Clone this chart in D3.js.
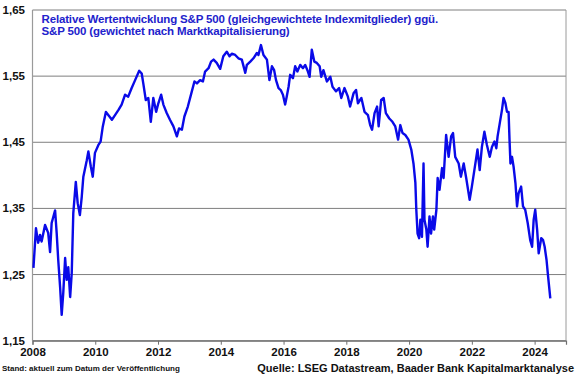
<!DOCTYPE html>
<html>
<head>
<meta charset="utf-8">
<script src="https://cdn.jsdelivr.net/npm/d3@7"></script>
<style>
  body { margin: 0; background: #fff; }
  svg { display: block; font-family: "Liberation Sans", Arial, sans-serif; }
</style>
</head>
<body>
<svg id="chart" width="580" height="375"></svg>
<script>
const years = [
  2008.03, 2008.11, 2008.18, 2008.24, 2008.29, 2008.40, 2008.50, 2008.56, 2008.61, 2008.72,
  2008.77, 2008.82, 2008.88, 2008.93, 2008.98, 2009.04, 2009.09, 2009.14, 2009.20, 2009.25,
  2009.30, 2009.38, 2009.44, 2009.51, 2009.57, 2009.62, 2009.73, 2009.78, 2009.86, 2009.92,
  2009.99, 2010.10, 2010.17, 2010.24, 2010.34, 2010.42, 2010.53, 2010.63, 2010.74, 2010.84,
  2010.95, 2011.05, 2011.16, 2011.27, 2011.40, 2011.48, 2011.53, 2011.61, 2011.69, 2011.77,
  2011.85, 2011.94, 2012.01, 2012.10, 2012.17, 2012.28, 2012.38, 2012.49, 2012.60, 2012.67,
  2012.76, 2012.84, 2012.95, 2013.05, 2013.16, 2013.24, 2013.34, 2013.43, 2013.50, 2013.61,
  2013.69, 2013.77, 2013.87, 2013.98, 2014.08, 2014.19, 2014.28, 2014.35, 2014.46, 2014.56,
  2014.67, 2014.78, 2014.83, 2014.94, 2015.04, 2015.15, 2015.20, 2015.28, 2015.36, 2015.47,
  2015.55, 2015.63, 2015.70, 2015.76, 2015.84, 2015.91, 2015.98, 2016.05, 2016.10, 2016.16,
  2016.21, 2016.30, 2016.37, 2016.44, 2016.53, 2016.62, 2016.69, 2016.76, 2016.83, 2016.90,
  2016.98, 2017.06, 2017.15, 2017.20, 2017.27, 2017.38, 2017.49, 2017.56, 2017.67, 2017.77,
  2017.84, 2017.94, 2018.05, 2018.12, 2018.23, 2018.31, 2018.37, 2018.48, 2018.58, 2018.69,
  2018.76, 2018.82, 2018.90, 2018.98, 2019.03, 2019.11, 2019.19, 2019.26, 2019.37, 2019.47,
  2019.56, 2019.65, 2019.72, 2019.79, 2019.88, 2019.98, 2020.07, 2020.14, 2020.20, 2020.23,
  2020.27, 2020.32, 2020.36, 2020.41, 2020.46, 2020.49, 2020.55, 2020.59, 2020.65, 2020.70,
  2020.76, 2020.80, 2020.87, 2020.91, 2020.97, 2021.05, 2021.10, 2021.18, 2021.26, 2021.34,
  2021.40, 2021.47, 2021.58, 2021.65, 2021.74, 2021.82, 2021.93, 2022.00, 2022.08, 2022.18,
  2022.25, 2022.32, 2022.40, 2022.48, 2022.57, 2022.64, 2022.72, 2022.78, 2022.82, 2022.89,
  2022.96, 2023.01, 2023.07, 2023.12, 2023.17, 2023.20, 2023.23, 2023.28, 2023.33, 2023.39,
  2023.44, 2023.49, 2023.57, 2023.63, 2023.70, 2023.78, 2023.86, 2023.92, 2023.97, 2024.02,
  2024.08, 2024.13, 2024.21, 2024.27, 2024.32, 2024.38, 2024.43, 2024.50
];
const ratio = [
  1.260, 1.320, 1.298, 1.310, 1.300, 1.325, 1.313, 1.284, 1.328, 1.347,
  1.313, 1.272, 1.231, 1.189, 1.222, 1.275, 1.242, 1.261, 1.216, 1.252,
  1.343, 1.390, 1.358, 1.340, 1.368, 1.398, 1.423, 1.436, 1.413, 1.398,
  1.434, 1.446, 1.451, 1.474, 1.496, 1.491, 1.484, 1.491, 1.499, 1.507,
  1.522, 1.519, 1.532, 1.544, 1.558, 1.554, 1.539, 1.514, 1.517, 1.481,
  1.517, 1.496, 1.509, 1.522, 1.507, 1.494, 1.484, 1.474, 1.459, 1.471,
  1.469, 1.489, 1.504, 1.522, 1.542, 1.539, 1.544, 1.542, 1.557, 1.562,
  1.572, 1.575, 1.570, 1.561, 1.580, 1.587, 1.580, 1.584, 1.582, 1.577,
  1.575, 1.555, 1.567, 1.572, 1.577, 1.585, 1.582, 1.597, 1.582, 1.575,
  1.544, 1.565, 1.559, 1.544, 1.532, 1.529, 1.522, 1.507, 1.519, 1.534,
  1.552, 1.547, 1.565, 1.557, 1.567, 1.562, 1.567, 1.559, 1.549, 1.590,
  1.572, 1.570, 1.565, 1.549, 1.559, 1.542, 1.549, 1.534, 1.527, 1.532,
  1.517, 1.532, 1.519, 1.504, 1.524, 1.529, 1.509, 1.517, 1.496, 1.491,
  1.476, 1.469, 1.494, 1.504, 1.474, 1.514, 1.517, 1.494, 1.486, 1.481,
  1.474, 1.454, 1.476, 1.464, 1.461, 1.454, 1.439, 1.418, 1.389, 1.348,
  1.312, 1.305, 1.333, 1.307, 1.418, 1.333, 1.318, 1.292, 1.338, 1.312,
  1.338, 1.318, 1.348, 1.396, 1.378, 1.411, 1.396, 1.461, 1.428, 1.459,
  1.464, 1.428, 1.418, 1.398, 1.418, 1.396, 1.363, 1.383, 1.408, 1.439,
  1.408, 1.443, 1.466, 1.446, 1.428, 1.443, 1.451, 1.441, 1.459, 1.479,
  1.499, 1.517, 1.509, 1.496, 1.496, 1.454, 1.418, 1.428, 1.413, 1.388,
  1.353, 1.373, 1.383, 1.353, 1.348, 1.328, 1.302, 1.292, 1.333, 1.348,
  1.318, 1.282, 1.305, 1.302, 1.292, 1.272, 1.247, 1.214
];
const yTicks = [1.15, 1.25, 1.35, 1.45, 1.55, 1.65];
const xTicks = [2008, 2010, 2012, 2014, 2016, 2018, 2020, 2022, 2024];

const titleLines = [
  "Relative Wertentwicklung S&P 500 (gleichgewichtete Indexmitglieder) ggü.",
  "S&P 500 (gewichtet nach Marktkapitalisierung)"
];

const svg = d3.select("#chart");
const plotLeft = 32.5, plotRight = 566, plotTop = 10, plotBottom = 340.7;

const x = d3.scaleLinear().domain([2008, 2025]).range([plotLeft, plotRight]);
const y = d3.scaleLinear().domain([1.15, 1.65]).range([plotBottom, plotTop]);

const fmt = d => d3.format(".2f")(d).replace(".", ",");

// Gitterlinien
svg.append("g")
  .selectAll("line")
  .data(yTicks)
  .join("line")
  .attr("x1", plotLeft).attr("x2", plotRight)
  .attr("y1", d => y(d)).attr("y2", d => y(d))
  .attr("stroke", "#7f7f7f")
  .attr("stroke-width", 1);

// Rahmen links / rechts
svg.append("line").attr("x1", plotLeft).attr("x2", plotLeft).attr("y1", plotTop).attr("y2", plotBottom)
  .attr("stroke", "#9a9a9a").attr("stroke-width", 1.2);
svg.append("line").attr("x1", plotRight).attr("x2", plotRight).attr("y1", plotTop).attr("y2", plotBottom)
  .attr("stroke", "#9a9a9a").attr("stroke-width", 1);

// Y-Achse Beschriftung
svg.append("g")
  .selectAll("text")
  .data(yTicks)
  .join("text")
  .attr("x", 25)
  .attr("y", d => y(d) + 4)
  .attr("text-anchor", "end")
  .style("font-size", "11.5px")
  .style("font-weight", "bold")
  .attr("fill", "#111")
  .text(fmt);

// X-Achse
const xAxis = d3.axisBottom(x)
  .tickValues(xTicks)
  .tickSize(4)
  .tickFormat(d3.format("d"));

const gx = svg.append("g")
  .attr("transform", `translate(0,${plotBottom})`)
  .call(xAxis);
gx.select(".domain").attr("stroke", "#6f6f6f").attr("stroke-width", 1.2);
gx.selectAll(".tick line").attr("stroke", "#6f6f6f");
gx.selectAll(".tick text")
  .attr("y", 7)
  .attr("fill", "#111")
  .style("font-size", "11.5px")
  .style("font-weight", "bold")
  .style("font-family", "'Liberation Sans', Arial, sans-serif");

// Linie
const line = d3.line()
  .x((d, i) => x(years[i]))
  .y(d => y(d));

svg.append("path")
  .datum(ratio)
  .attr("d", line)
  .attr("fill", "none")
  .attr("stroke", "#0a0ae8")
  .attr("stroke-width", 2.4)
  .attr("stroke-linejoin", "round");

// Titel
svg.append("g")
  .selectAll("text")
  .data(titleLines)
  .join("text")
  .attr("x", 41.5)
  .attr("y", (d, i) => 22.5 + i * 12.5)
  .attr("fill", "#2222cc")
  .style("font-size", "11.5px")
  .style("font-weight", "bold")
  .style("letter-spacing", "-0.15px")
  .text(d => d);

// Fußzeilen
svg.append("text")
  .attr("x", 2)
  .attr("y", 371)
  .style("font-size", "8px")
  .style("font-weight", "bold")
  .attr("fill", "#111")
  .text("Stand: aktuell zum Datum der Veröffentlichung");

svg.append("text")
  .attr("x", 574)
  .attr("y", 371.5)
  .attr("text-anchor", "end")
  .style("font-size", "11px")
  .style("font-weight", "bold")
  .attr("fill", "#111")
  .text("Quelle: LSEG Datastream, Baader Bank Kapitalmarktanalyse");
</script>
</body>
</html>
